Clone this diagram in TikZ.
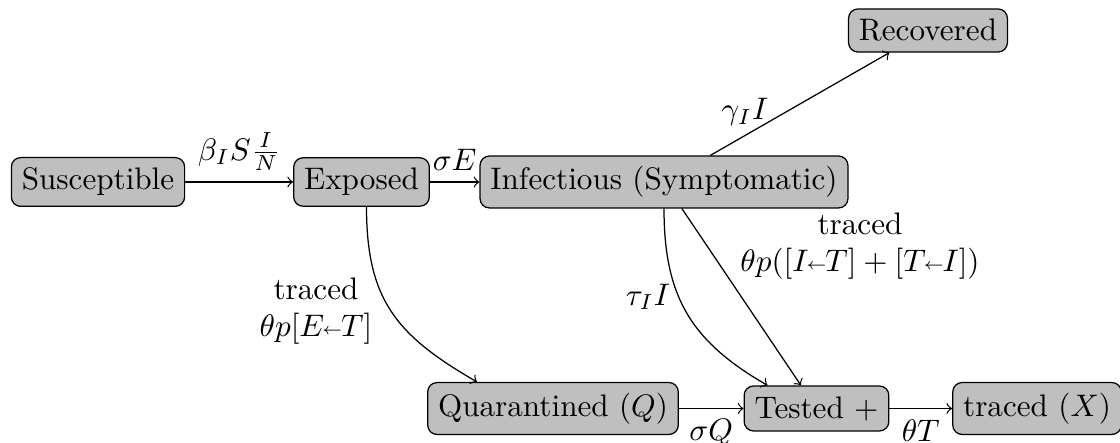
\documentclass[tikz,border=0pt]{standalone}
\usetikzlibrary{calc}
\newcommand{\sarr}{\mathord{\mkern-1.5mu\raisebox{0.6pt}{$\scriptscriptstyle\leftarrow$}\mkern-1mu}}
\begin{document}
\begin{tikzpicture}[x=0.32103pt,y=-0.32103pt,
  box/.style={draw, rounded corners=3pt, fill=gray!50},
  flow/.style={->},
  lbl/.style={inner sep=0pt, align=center}]
\useasboundingbox (0,0) rectangle (1120,443);
% compartments
\node[box] (S) at (98,182) {Susceptible};
\node[box] (E) at (361.5,182) {Exposed};
\node[box] (I) at (664,182) {Infectious (Symptomatic)};
\node[box] (R) at (928,30.5) {Recovered};
\node[box] (Q) at (553,408.5) {Quarantined ($Q$)};
\node[box] (T) at (816.5,408.5) {Tested +};
\node[box] (X) at (1037,408.5) {traced ($X$)};
% flows
\draw[flow] (S) -- node[above] {$\beta_I S\frac{I}{N}$} (E);
\draw[flow] (E) -- node[above] {$\sigma E$} (I);
\draw[flow] (I) -- (R);
\draw[flow] ($(E.south)+(5,0)$) to[out=-90, in=150, looseness=1.15] ($(Q.north)+(-76,0)$);
\draw[flow] (I.south) to[out=-90, in=150, looseness=1.1] ($(T.north)+(-49,0)$);
\draw[flow] (I) -- (T);
\draw[flow] (Q) -- node[below] {$\sigma Q$} (T);
\draw[flow] (T) -- node[below] {$\theta T$} (X);
% rate labels
\node[lbl] (lg) at (745,112) {$\gamma_I I$};
\node[lbl] (lt) at (648,297) {$\tau_I I$};
\node[lbl] (le) at (316,311) {traced\\ $\theta p[E\sarr T]$};
\node[lbl] (li) at (860,246) {traced\\ $\theta p([I\sarr T] + [T\sarr I])$};
\end{tikzpicture}
\end{document}
